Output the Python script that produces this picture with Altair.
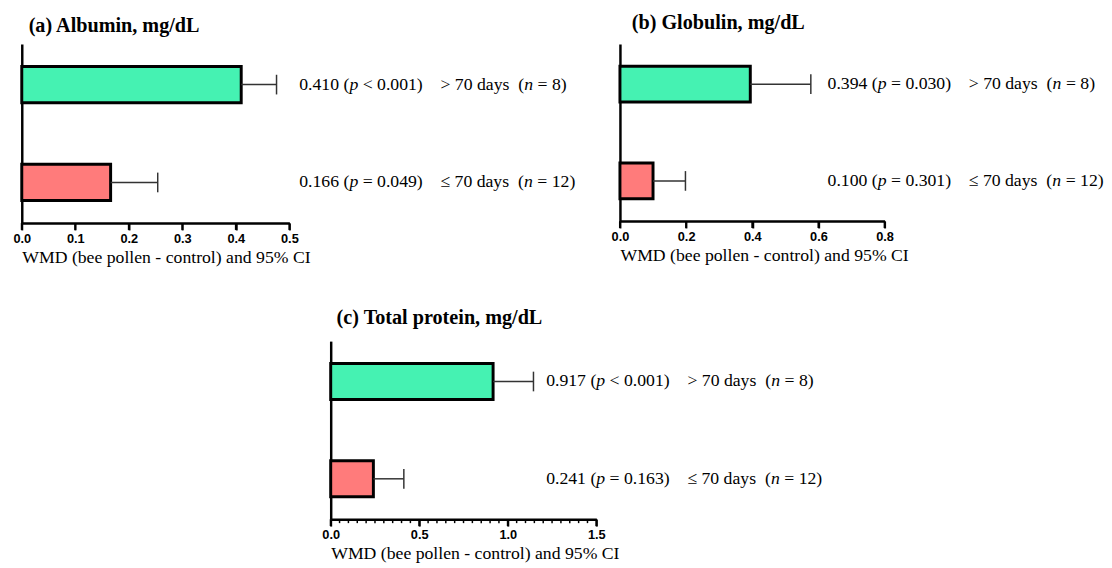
import altair as alt
import pandas as pd

# ---------------- data ----------------
groups = ["> 70 days", "≤ 70 days"]
n_values = [8, 12]

alb_wmd = [0.410, 0.166]
alb_upper = [0.476, 0.254]
alb_p = ["< 0.001", "= 0.049"]

glob_wmd = [0.394, 0.100]
glob_upper = [0.577, 0.198]
glob_p = ["= 0.030", "= 0.301"]

tp_wmd = [0.917, 0.241]
tp_upper = [1.145, 0.413]
tp_p = ["< 0.001", "= 0.163"]

alb_ticks = [0.0, 0.1, 0.2, 0.3, 0.4, 0.5]
glob_ticks = [0.0, 0.2, 0.4, 0.6, 0.8]
tp_ticks = [0.0, 0.5, 1.0, 1.5]
tp_minor = [0.05, 0.1, 0.15, 0.2, 0.25, 0.3, 0.35, 0.4, 0.45,
            0.55, 0.6, 0.65, 0.7, 0.75, 0.8, 0.85, 0.9, 0.95,
            1.05, 1.1, 1.15, 1.2, 1.25, 1.3, 1.35, 1.4, 1.45]

colors = ["#45F2B2", "#FF7B7B"]
AXIS_TITLE = "WMD (bee pollen - control) and 95% CI"

# ---------------- text metrics (Times / Liberation Serif) ----------------
NB = "\u00a0"
W_REG = {**{d: 500 for d in "0123456789"}, ".": 250, "(": 333, ")": 333, NB: 250, " ": 250,
         "<": 564, ">": 564, "=": 564, "≤": 549, "d": 500, "a": 444, "y": 500, "s": 389}
FS = 18


def text_w(s):
    return sum(W_REG.get(c, 500) for c in s) * FS / 1000.0


def segments(wmd, pvals, start_px, ppu):
    rows = []
    for g, v, p, n in zip(groups, wmd, pvals, n_values):
        parts = [
            (0, f"{v:.3f}{NB}(", False),
            (0, "p", True),
            (1, f"{p.replace(' ', NB)}){NB * 4}{g.replace(' ', NB)}{NB * 2}(", False),
            (0, "n", True),
            (1, f"={NB}{n})", False),
        ]
        off = 0.0
        for lead, t, it in parts:
            off += lead * 250 * FS / 1000.0
            rows.append(dict(group=g, seg=t, italic=it, x=(start_px + off) / ppu))
            off += (500 * FS / 1000.0) if it else text_w(t)
    return pd.DataFrame(rows)


def panel(title, wmd, upper, pvals, ticks, dmax, axis_len, x_off, height, width,
          text_px, title_dx, title_offset, minor=None):
    df = pd.DataFrame({"group": groups, "wmd": wmd, "upper": upper})
    ppu = axis_len / dmax
    seg = segments(wmd, pvals, text_px, ppu)

    xs = alt.Scale(domain=[0, dmax], range=[x_off, x_off + axis_len], nice=False, zero=False)
    ys = alt.Scale(domain=groups, paddingInner=0.63, paddingOuter=0.23)

    xaxis = alt.Axis(values=ticks, format=".1f", grid=False, orient="bottom",
                     domainColor="black", domainWidth=2.5,
                     tickColor="black", tickWidth=2, tickSize=7,
                     labelFont="Liberation Sans", labelFontWeight="bold", labelFontSize=13,
                     labelColor="black", labelPadding=3, labelFlush=False,
                     title=AXIS_TITLE, titleFont="Liberation Serif", titleFontWeight="normal",
                     titleFontSize=18, titleColor="black", titleAnchor="start", titleAlign="left",
                     titlePadding=3)
    yaxis = alt.Axis(labels=False, ticks=False, title=None, grid=False,
                     domainColor="black", domainWidth=2.5, offset=-x_off)

    base = alt.Chart(df)
    rule = base.mark_rule(color="#333333", strokeWidth=1.5).encode(
        x=alt.X("wmd:Q", scale=xs), x2="upper:Q", y=alt.Y("group:N", scale=ys))
    bars = base.mark_bar(stroke="black", strokeWidth=3).encode(
        x=alt.X("wmd:Q", scale=xs, axis=xaxis), y=alt.Y("group:N", scale=ys, axis=yaxis),
        color=alt.Color("group:N", scale=alt.Scale(domain=groups, range=colors), legend=None))
    # whisker end cap: vertical line symbol at the upper CI
    cap = base.mark_point(shape="M0,-1L0,1", size=400, filled=False, color="#333333",
                          strokeWidth=1.5, opacity=1).encode(
        x=alt.X("upper:Q", scale=xs), y=alt.Y("group:N", scale=ys))

    # axis tick marks (major, and minor where the reference has them)
    major = alt.Chart(pd.DataFrame({"t": ticks})).mark_rule(color="black", strokeWidth=2).encode(
        x=alt.X("t:Q", scale=xs), y=alt.value(height), y2=alt.value(height + 7))
    layers = [bars, rule, cap, major]
    if minor is not None:
        layers.append(alt.Chart(pd.DataFrame({"t": minor})).mark_rule(
            color="black", strokeWidth=1.5).encode(
            x=alt.X("t:Q", scale=xs), y=alt.value(height), y2=alt.value(height + 4)))

    tbase = alt.Chart(seg)
    treg = tbase.transform_filter("!datum.italic").mark_text(
        align="left", baseline="middle", font="Liberation Serif", fontSize=FS, color="black"
    ).encode(x=alt.X("x:Q", scale=xs), y=alt.Y("group:N", scale=ys), text="seg:N")
    tit = tbase.transform_filter("datum.italic").mark_text(
        align="left", baseline="middle", font="Liberation Serif", fontSize=FS,
        fontStyle="italic", color="black"
    ).encode(x=alt.X("x:Q", scale=xs), y=alt.Y("group:N", scale=ys), text="seg:N")
    layers += [treg, tit]

    tp = alt.TitleParams(title, anchor="start", frame="group", font="Liberation Serif",
                         fontSize=20.5, fontWeight="bold", color="black",
                         dx=title_dx, offset=title_offset)
    return alt.layer(*layers).properties(width=width, height=height, title=tp)


pa = panel("(a) Albumin, mg/dL", alb_wmd, alb_upper, alb_p, alb_ticks, 0.5, 272, 0, 182, 560,
           282, 7, 8)
pb = panel("(b) Globulin, mg/dL", glob_wmd, glob_upper, glob_p, glob_ticks, 0.8, 269, 0, 180, 480,
           211, 12, 11)
pc = panel("(c) Total protein, mg/dL", tp_wmd, tp_upper, tp_p, tp_ticks, 1.5, 270, 314, 181, 820,
           219, 320, 13, minor=tp_minor)

chart = alt.vconcat(alt.hconcat(pa, pb, spacing=35), pc, spacing=42).properties(
    padding={"left": 4, "top": 0, "right": 0, "bottom": 0},
    background="white",
).configure_view(stroke=None)

chart.save("out.html", embed_options={"renderer": "svg", "actions": False})
